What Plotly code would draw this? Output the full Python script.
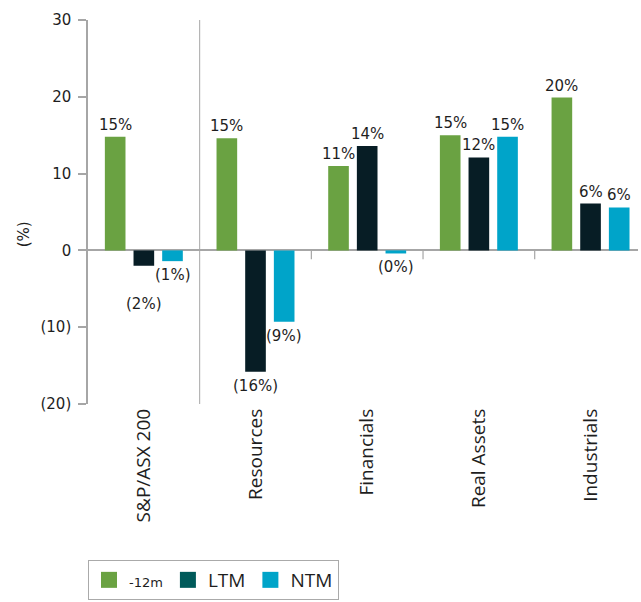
import plotly.graph_objects as go

# Earnings growth by sector (%)
categories = ["S&P/ASX 200", "Resources", "Financials", "Real Assets", "Industrials"]
series_names = ["-12m", "LTM", "NTM"]
growth_12m = [14.8, 14.6, 11.0, 15.0, 19.9]
growth_ltm = [-2.0, -15.8, 13.6, 12.1, 6.1]
growth_ntm = [-1.4, -9.3, -0.4, 14.8, 5.6]
y_tick_vals = [-20, -10, 0, 10, 20, 30]
y_tick_text = ["(20)", "(10)", "0", "10", "20", "30"]

series_values = [growth_12m, growth_ltm, growth_ntm]
bar_colors = ["#6aa242", "#071d25", "#00a4c9"]
legend_colors = ["#6aa242", "#005a5a", "#00a4c9"]

GOTHAM_LIKE = "DejaVu Sans"
HUMANIST = "Open Sans"
AXIS_GREY = "#a6a6a6"
TEXT = "#1e1e1e"


def pct_label(v):
    n = int(round(abs(v)))
    return f"({n}%)" if v < 0 else f"{n}%"


fig = go.Figure()

for name, vals, col in zip(series_names, series_values, bar_colors):
    fig.add_trace(go.Bar(
        x=categories, y=vals, name=name, marker=dict(color=col, line=dict(width=0)),
        showlegend=False, hoverinfo="skip",
    ))

# legend swatches (square markers)
legend_labels = ["<span style='font-size:13px;font-family:DejaVu Sans'>-12m</span>", "LTM", "NTM"]
for lab, col in zip(legend_labels, legend_colors):
    fig.add_trace(go.Scatter(
        x=[None], y=[None], mode="markers", name=lab,
        marker=dict(symbol="square", size=16, color=col),
    ))

# value labels above / below each bar
slot_px = 28.7
extra_drop = {("S&P/ASX 200", 1): -24}
annotations = []
for si, vals in enumerate(series_values):
    for cat, v in zip(categories, vals):
        neg = v < 0
        annotations.append(dict(
            x=cat, y=v, xref="x", yref="y", text=pct_label(v), showarrow=False,
            xshift=(si - 1) * slot_px,
            yanchor="top" if neg else "bottom",
            yshift=(-3 if neg else 1) + extra_drop.get((cat, si), 0),
            font=dict(family=GOTHAM_LIKE, size=15, color=TEXT),
        ))

# y axis title
annotations.append(dict(
    x=0, xref="paper", y=0.442, yref="paper", xshift=-75, text="(%)", textangle=-90,
    showarrow=False, font=dict(family=GOTHAM_LIKE, size=15, color=TEXT),
))

shapes = [
    # separator between the index and the sectors
    dict(type="line", xref="x", yref="paper", x0=0.5, x1=0.5, y0=0, y1=1,
         line=dict(color=AXIS_GREY, width=1)),
]
# small category ticks hanging from the zero line
for b in [1.5, 2.5, 3.5]:
    shapes.append(dict(type="line", xref="x", yref="y", x0=b, x1=b, y0=0, y1=-1.15,
                       line=dict(color=AXIS_GREY, width=1.2)))

fig.update_layout(
    width=641, height=602,
    margin=dict(l=88, r=3, t=20, b=197),
    paper_bgcolor="white", plot_bgcolor="white",
    barmode="group", bargap=0.23, bargroupgap=0.28,
    xaxis=dict(
        type="category", range=[-0.5, 4.425], showgrid=False, showline=False,
        ticks="", tickangle=-90, zeroline=False,
        tickfont=dict(family=HUMANIST, size=19, color=TEXT),
    ),
    yaxis=dict(
        range=[-20, 30], tickvals=y_tick_vals, ticktext=y_tick_text,
        showgrid=False, showline=True, linecolor=AXIS_GREY, linewidth=1.5,
        ticks="outside", ticklen=8, tickcolor=AXIS_GREY, tickwidth=1.5,
        zeroline=True, zerolinecolor=AXIS_GREY, zerolinewidth=2,
        ticklabelstandoff=4,
        tickfont=dict(family=GOTHAM_LIKE, size=15, color=TEXT),
    ),
    legend=dict(
        orientation="h", x=0, xanchor="left", y=-0.4026, yanchor="top",
        bordercolor="#aaaaaa", borderwidth=1, bgcolor="white",
        font=dict(family=HUMANIST, size=19, color=TEXT),
        itemclick=False, itemdoubleclick=False, traceorder="normal",
    ),
    annotations=annotations,
    shapes=shapes,
    showlegend=True,
)

fig.write_html("out.html")
